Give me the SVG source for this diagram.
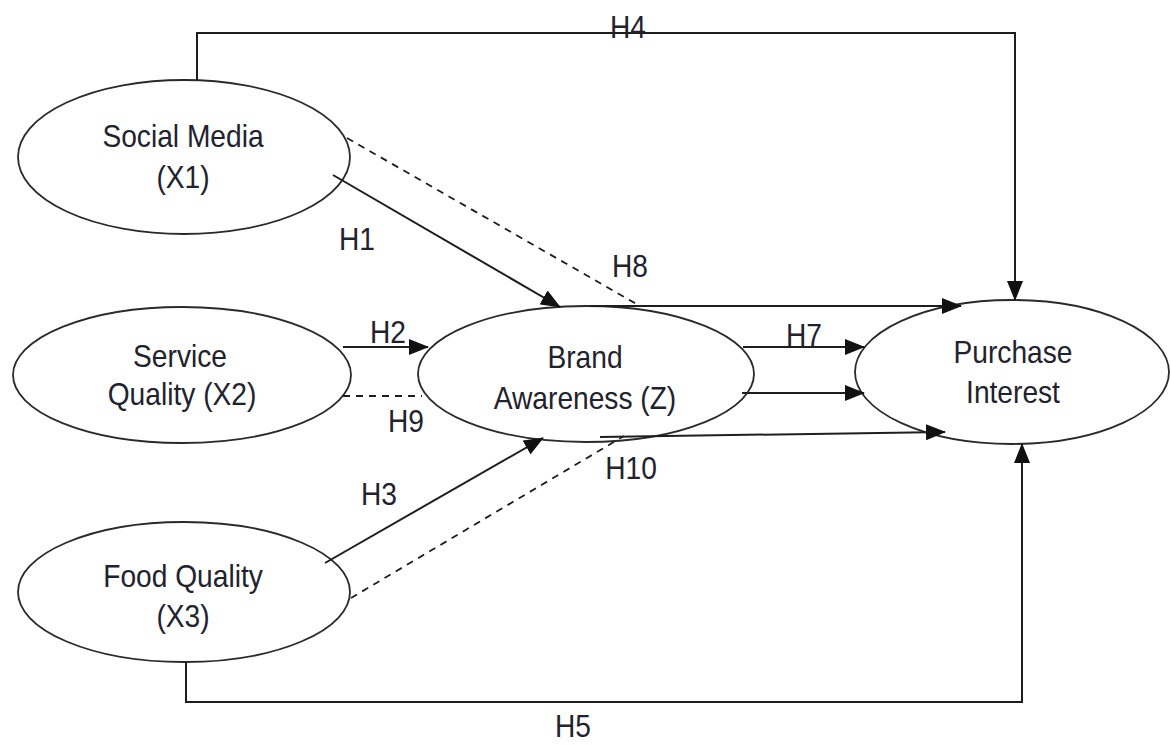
<svg xmlns="http://www.w3.org/2000/svg" width="1171" height="745" viewBox="0 0 1171 745">
  <style>
    .node { fill: #ffffff; stroke: #2a2a2a; stroke-width: 1.8; }
    .lbl { font-family: "Liberation Sans", Arial, sans-serif; font-size: 32px; fill: #22222e; text-anchor: middle; }
    .edge { fill: none; stroke: #1e1e1e; stroke-width: 2; }
    .dash { fill: none; stroke: #1e1e1e; stroke-width: 1.8; stroke-dasharray: 7 6; }
  </style>
  <defs>
    <marker id="arrow" markerUnits="userSpaceOnUse" markerWidth="20" markerHeight="16" refX="19" refY="8" orient="auto">
      <path d="M0,0 L20,8 L0,16 Z" fill="#111"/>
    </marker>
  </defs>
  <rect width="1171" height="745" fill="#ffffff"/>

  <!-- nodes (labels use a slightly condensed face: matrix(0.88 0 0 1 x y)) -->
  <g id="social-media">
    <ellipse class="node" cx="184" cy="157" rx="166" ry="77"/>
    <text class="lbl" transform="matrix(0.88 0 0 1 183 147)">Social Media</text>
    <text class="lbl" transform="matrix(0.88 0 0 1 183 188)">(X1)</text>
  </g>
  <g id="service-quality">
    <ellipse class="node" cx="182" cy="375" rx="169" ry="68"/>
    <text class="lbl" transform="matrix(0.88 0 0 1 180 367)">Service</text>
    <text class="lbl" transform="matrix(0.88 0 0 1 182 405)">Quality (X2)</text>
  </g>
  <g id="food-quality">
    <ellipse class="node" cx="184" cy="592" rx="166" ry="70"/>
    <text class="lbl" transform="matrix(0.88 0 0 1 183 587)">Food Quality</text>
    <text class="lbl" transform="matrix(0.88 0 0 1 183 627)">(X3)</text>
  </g>
  <g id="brand-awareness">
    <ellipse class="node" cx="586" cy="374" rx="168" ry="68"/>
    <text class="lbl" transform="matrix(0.88 0 0 1 585 368)">Brand</text>
    <text class="lbl" transform="matrix(0.88 0 0 1 585 409)">Awareness (Z)</text>
  </g>
  <g id="purchase-interest">
    <ellipse class="node" cx="1012" cy="372" rx="157" ry="72"/>
    <text class="lbl" transform="matrix(0.88 0 0 1 1013 363)">Purchase</text>
    <text class="lbl" transform="matrix(0.88 0 0 1 1013 403)">Interest</text>
  </g>

  <!-- connectors -->
  <g id="connectors">
    <!-- H4: Social Media -> Purchase Interest -->
    <path class="edge" d="M197,80 V33 H1015 V300" marker-end="url(#arrow)"/>
    <!-- H5: Food Quality -> Purchase Interest -->
    <path class="edge" d="M186,662 V702 H1022 V444" marker-end="url(#arrow)"/>
    <!-- H1 -->
    <path class="edge" d="M333,175 L560,307" marker-end="url(#arrow)"/>
    <!-- H2 -->
    <path class="edge" d="M343,347 L428,347" marker-end="url(#arrow)"/>
    <!-- H3 -->
    <path class="edge" d="M325,563 L543,438" marker-end="url(#arrow)"/>
    <!-- H7 -->
    <path class="edge" d="M743,347 L864,347" marker-end="url(#arrow)"/>
    <path class="edge" d="M742,393 L864,393" marker-end="url(#arrow)"/>
    <!-- H8: mediated path via Brand Awareness -->
    <path class="dash" d="M347,138 L640,306"/>
    <path class="edge" d="M590,306 L961,306" marker-end="url(#arrow)"/>
    <!-- H9 -->
    <path class="dash" d="M343,396 L422,396"/>
    <!-- H10 -->
    <path class="dash" d="M351,598 L624,436"/>
    <path class="edge" d="M600,437 L945,432" marker-end="url(#arrow)"/>
  </g>

  <!-- hypothesis labels -->
  <g id="labels">
    <text class="lbl" transform="matrix(0.88 0 0 1 628 38)">H4</text>
    <text class="lbl" transform="matrix(0.88 0 0 1 357 250)">H1</text>
    <text class="lbl" transform="matrix(0.88 0 0 1 630 277)">H8</text>
    <text class="lbl" transform="matrix(0.88 0 0 1 388 343)">H2</text>
    <text class="lbl" transform="matrix(0.88 0 0 1 804 346)">H7</text>
    <text class="lbl" transform="matrix(0.88 0 0 1 406 432)">H9</text>
    <text class="lbl" transform="matrix(0.88 0 0 1 631 479)">H10</text>
    <text class="lbl" transform="matrix(0.88 0 0 1 379 505)">H3</text>
    <text class="lbl" transform="matrix(0.88 0 0 1 573 737)">H5</text>
  </g>
</svg>
